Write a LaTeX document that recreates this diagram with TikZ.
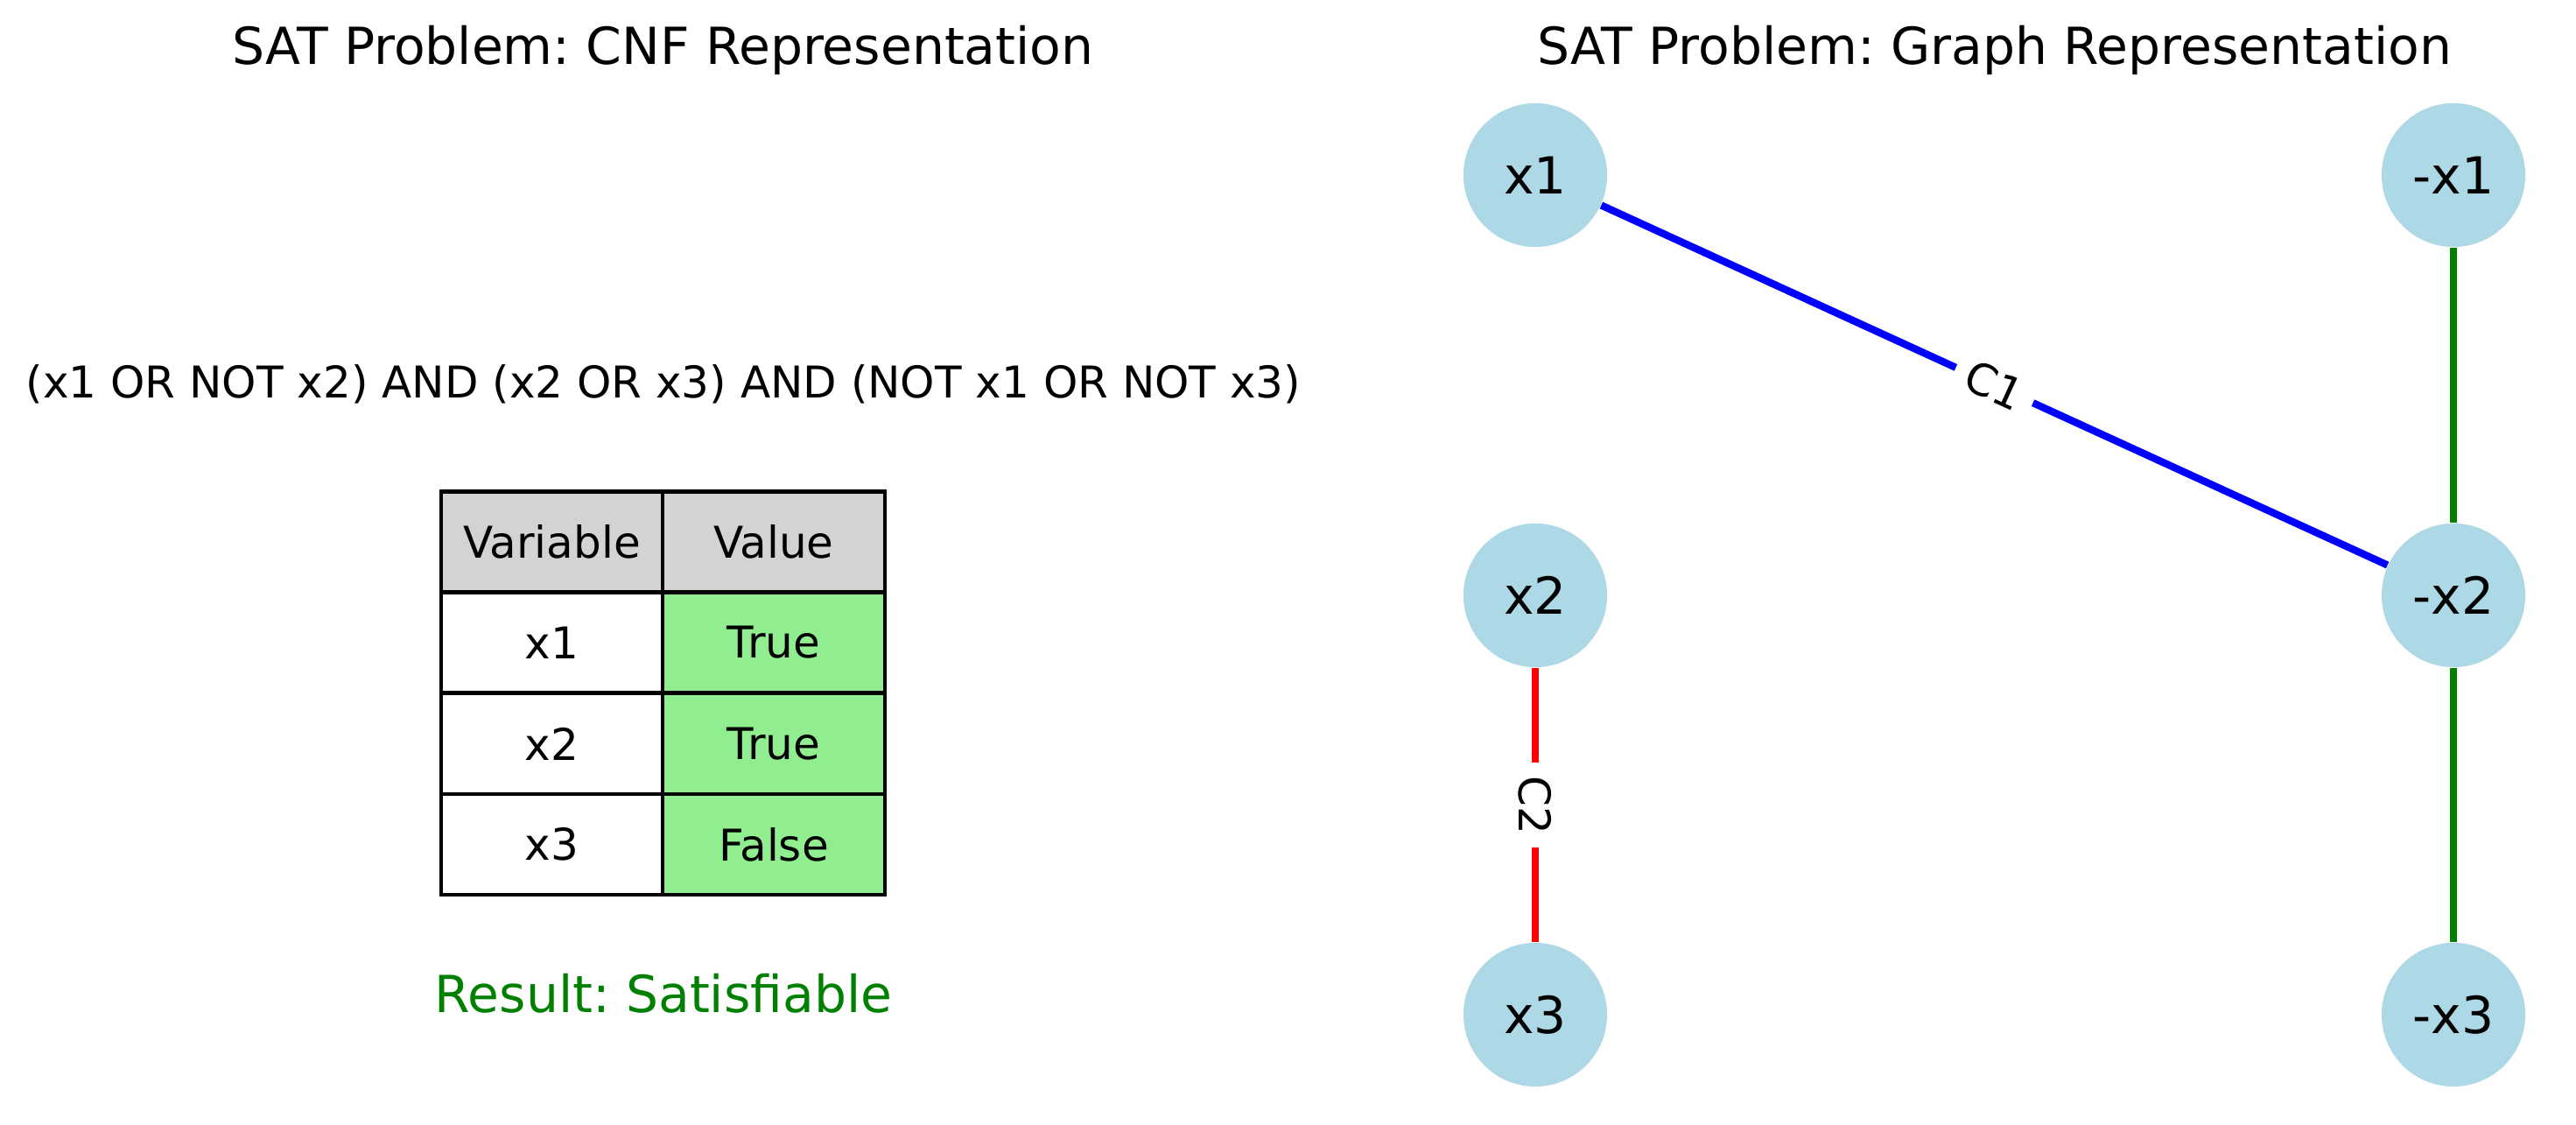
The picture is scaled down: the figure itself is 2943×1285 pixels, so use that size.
\documentclass[tikz,border=0pt]{standalone}
\usepackage{fontspec}
\setmainfont{DejaVu Sans}
\frenchspacing
\definecolor{nodeblue}{HTML}{ADD8E6}
\definecolor{valgreen}{HTML}{90EE90}
\definecolor{hdrgray}{HTML}{D3D3D3}
\definecolor{dkgreen}{HTML}{008000}
\begin{document}
\begin{tikzpicture}[x=0.24pt,y=-0.24pt,
  title/.style={font=\fontsize{14}{17}\selectfont, anchor=base},
  cell/.style={draw, line width=1pt, minimum width=60.84pt, minimum height=27.6pt, inner sep=0pt, font=\fontsize{12}{14}\selectfont},
  lit/.style={circle, fill=nodeblue, minimum size=39.4pt, inner sep=0pt, font=\fontsize{14}{17}\selectfont},
  clause/.style={line width=2pt},
  clabel/.style={fill=white, inner sep=3.6pt, font=\fontsize{12}{14}\selectfont, sloped}]
\useasboundingbox (0,0) rectangle (2943,1285);
% left panel: CNF
\node[title] (cnftitle) at (757.5,74) {SAT Problem: CNF Representation};
\node[anchor=base, font=\fontsize{12}{14}\selectfont] (formula) at (758,455) {(x1 OR NOT x2) AND (x2 OR x3) AND (NOT x1 OR NOT x3)};
\node[cell, fill=hdrgray] (hvar) at (630.5,619) {Variable};
\node[cell, fill=hdrgray] (hval) at (884,619) {Value};
\node[cell] (v1) at (630.5,734) {x1};
\node[cell, fill=valgreen] (t1) at (884,734) {True};
\node[cell] (v2) at (630.5,849.5) {x2};
\node[cell, fill=valgreen] (t2) at (884,849.5) {True};
\node[cell] (v3) at (630.5,964.5) {x3};
\node[cell, fill=valgreen] (t3) at (884,964.5) {False};
\node[title, text=dkgreen] (result) at (758,1157) {Result: Satisfiable};
% right panel: graph
\node[title] (graphtitle) at (2278.5,74) {SAT Problem: Graph Representation};
\node[lit] (x1) at (1754,200) {x1};
\node[lit] (nx1) at (2803,200) {-x1};
\node[lit] (x2) at (1754,680) {x2};
\node[lit] (nx2) at (2803,680) {-x2};
\node[lit] (x3) at (1754,1159) {x3};
\node[lit] (nx3) at (2803,1159) {-x3};
\draw[clause, draw=blue] (x1) -- (nx2) node[clabel, midway] {C1};
\draw[clause, draw=red] (x2) -- (x3) node[clabel, midway] {C2};
\draw[clause, draw=dkgreen] (nx1) -- (nx2);
\draw[clause, draw=dkgreen] (nx2) -- (nx3);
\end{tikzpicture}
\end{document}
